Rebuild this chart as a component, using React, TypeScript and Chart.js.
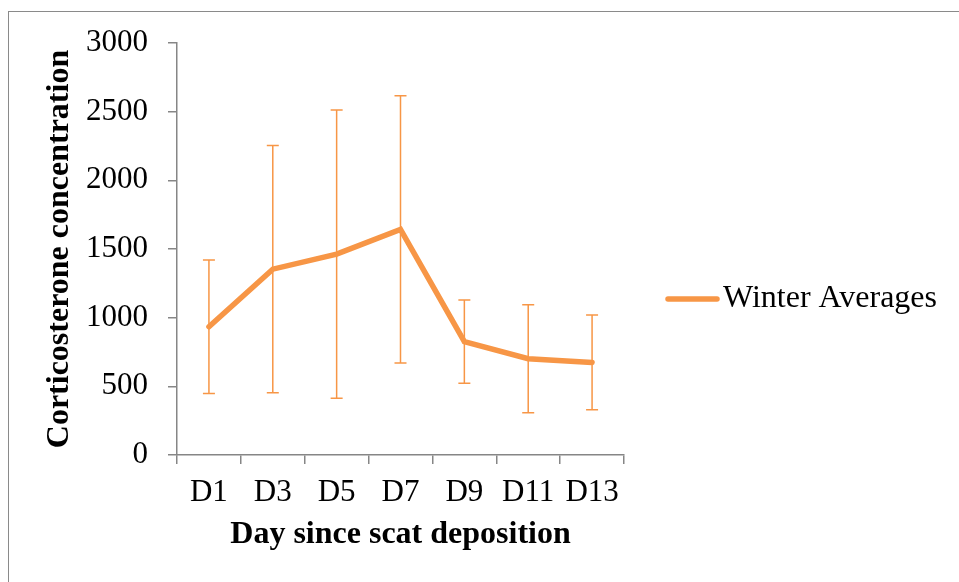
import React, { useEffect, useRef } from 'react';
import { Chart, registerables } from 'chart.js';

Chart.register(...registerables);

const categories = ['D1', 'D3', 'D5', 'D7', 'D9', 'D11', 'D13'];
const winterAverages = [934, 1353, 1463, 1642, 825, 701, 674];
const winterErrors = [486, 900, 1049, 973, 303, 393, 345];
const seriesLabel = 'Winter Averages';
const xTitle = 'Day since scat deposition';
const yTitle = 'Corticosterone concentration';
const yMin = 0;
const yMax = 3000;
const yStep = 500;

const ORANGE = '#F79646';
const AXIS = '#868686';
const FAMILY = "'Liberation Serif', 'Times New Roman', serif";

const errorBarPlugin = {
  id: 'errorBars',
  beforeDatasetsDraw(chart: any) {
    const ctx = chart.ctx;
    const xs = chart.scales.x;
    const ys = chart.scales.y;
    ctx.save();
    ctx.strokeStyle = ORANGE;
    ctx.lineWidth = 1.5;
    winterAverages.forEach((v, i) => {
      const px = xs.getPixelForValue(i);
      const top = ys.getPixelForValue(v + winterErrors[i]);
      const bot = ys.getPixelForValue(v - winterErrors[i]);
      ctx.beginPath();
      ctx.moveTo(px, top);
      ctx.lineTo(px, bot);
      ctx.moveTo(px - 6, top);
      ctx.lineTo(px + 6, top);
      ctx.moveTo(px - 6, bot);
      ctx.lineTo(px + 6, bot);
      ctx.stroke();
    });
    ctx.restore();
  },
};

const sideLegendPlugin = {
  id: 'sideLegend',
  afterDraw(chart: any) {
    const ctx = chart.ctx;
    const area = chart.chartArea;
    const xs = chart.scales.x;
    const cy = (area.top + xs.bottom) / 2;
    const x0 = area.right + 41;
    ctx.save();
    ctx.strokeStyle = ORANGE;
    ctx.lineWidth = 5.5;
    ctx.lineCap = 'round';
    ctx.beginPath();
    ctx.moveTo(x0 + 3, cy);
    ctx.lineTo(x0 + 52, cy);
    ctx.stroke();
    ctx.fillStyle = '#000';
    ctx.font = `32px ${FAMILY}`;
    ctx.textBaseline = 'middle';
    ctx.textAlign = 'left';
    ctx.fillText(seriesLabel, x0 + 58, cy);
    ctx.restore();
  },
};

export default function App() {
  const ref = useRef<HTMLCanvasElement | null>(null);

  useEffect(() => {
    if (!ref.current) return;
    const chart = new Chart(ref.current, {
      type: 'line',
      data: {
        labels: categories,
        datasets: [
          {
            label: seriesLabel,
            data: winterAverages,
            borderColor: ORANGE,
            backgroundColor: ORANGE,
            borderWidth: 5.5,
            pointRadius: 0,
            pointHoverRadius: 0,
            tension: 0,
            borderCapStyle: 'round',
            borderJoinStyle: 'miter',
            fill: false,
          },
        ],
      },
      options: {
        responsive: false,
        animation: false,
        devicePixelRatio: 1,
        layout: { padding: { left: 41, top: 43, right: 335, bottom: 27 } },
        plugins: {
          legend: { display: false },
          tooltip: { enabled: false },
        },
        scales: {
          x: {
            type: 'category',
            offset: true,
            grid: {
              offset: true,
              drawOnChartArea: false,
              drawTicks: true,
              tickLength: 9,
              color: AXIS,
              lineWidth: 1.5,
            },
            border: { color: AXIS, width: 1.5 },
            ticks: {
              color: '#000',
              font: { family: FAMILY, size: 31 },
              padding: 10,
              maxRotation: 0,
              autoSkip: false,
            },
            title: {
              display: true,
              text: xTitle,
              color: '#000',
              font: { family: FAMILY, size: 32, weight: 'bold' },
              padding: { top: 0, bottom: 1 },
            },
            afterFit: (s: any) => {
              s.height = 100;
            },
          },
          y: {
            min: yMin,
            max: yMax,
            grid: {
              drawOnChartArea: false,
              drawTicks: true,
              tickLength: 9,
              color: AXIS,
              lineWidth: 1.5,
            },
            border: { color: AXIS, width: 1.5 },
            ticks: {
              stepSize: yStep,
              color: '#000',
              font: { family: FAMILY, size: 31 },
              padding: 20,
              callback: (v: any) => String(v),
            },
            title: {
              display: true,
              text: yTitle,
              color: '#000',
              font: { family: FAMILY, size: 32, weight: 'bold' },
              padding: { top: 0, bottom: 0 },
            },
            afterFit: (s: any) => {
              s.width = 136;
            },
          },
        },
      },
      plugins: [errorBarPlugin, sideLegendPlugin],
    } as any);
    return () => chart.destroy();
  }, []);

  return (
    <div
      style={{
        position: 'fixed',
        left: 0,
        top: 0,
        width: 959,
        height: 582,
        overflow: 'hidden',
        background: '#fff',
      }}
    >
      <div
        style={{
          position: 'absolute',
          left: 8,
          top: 11,
          width: 2000,
          height: 2000,
          borderTop: '1px solid #8a8a8a',
          borderLeft: '1px solid #8a8a8a',
        }}
      />
      <canvas
        ref={ref}
        width={959}
        height={582}
        style={{ position: 'absolute', left: 0, top: 0, width: 959, height: 582 }}
      />
    </div>
  );
}
